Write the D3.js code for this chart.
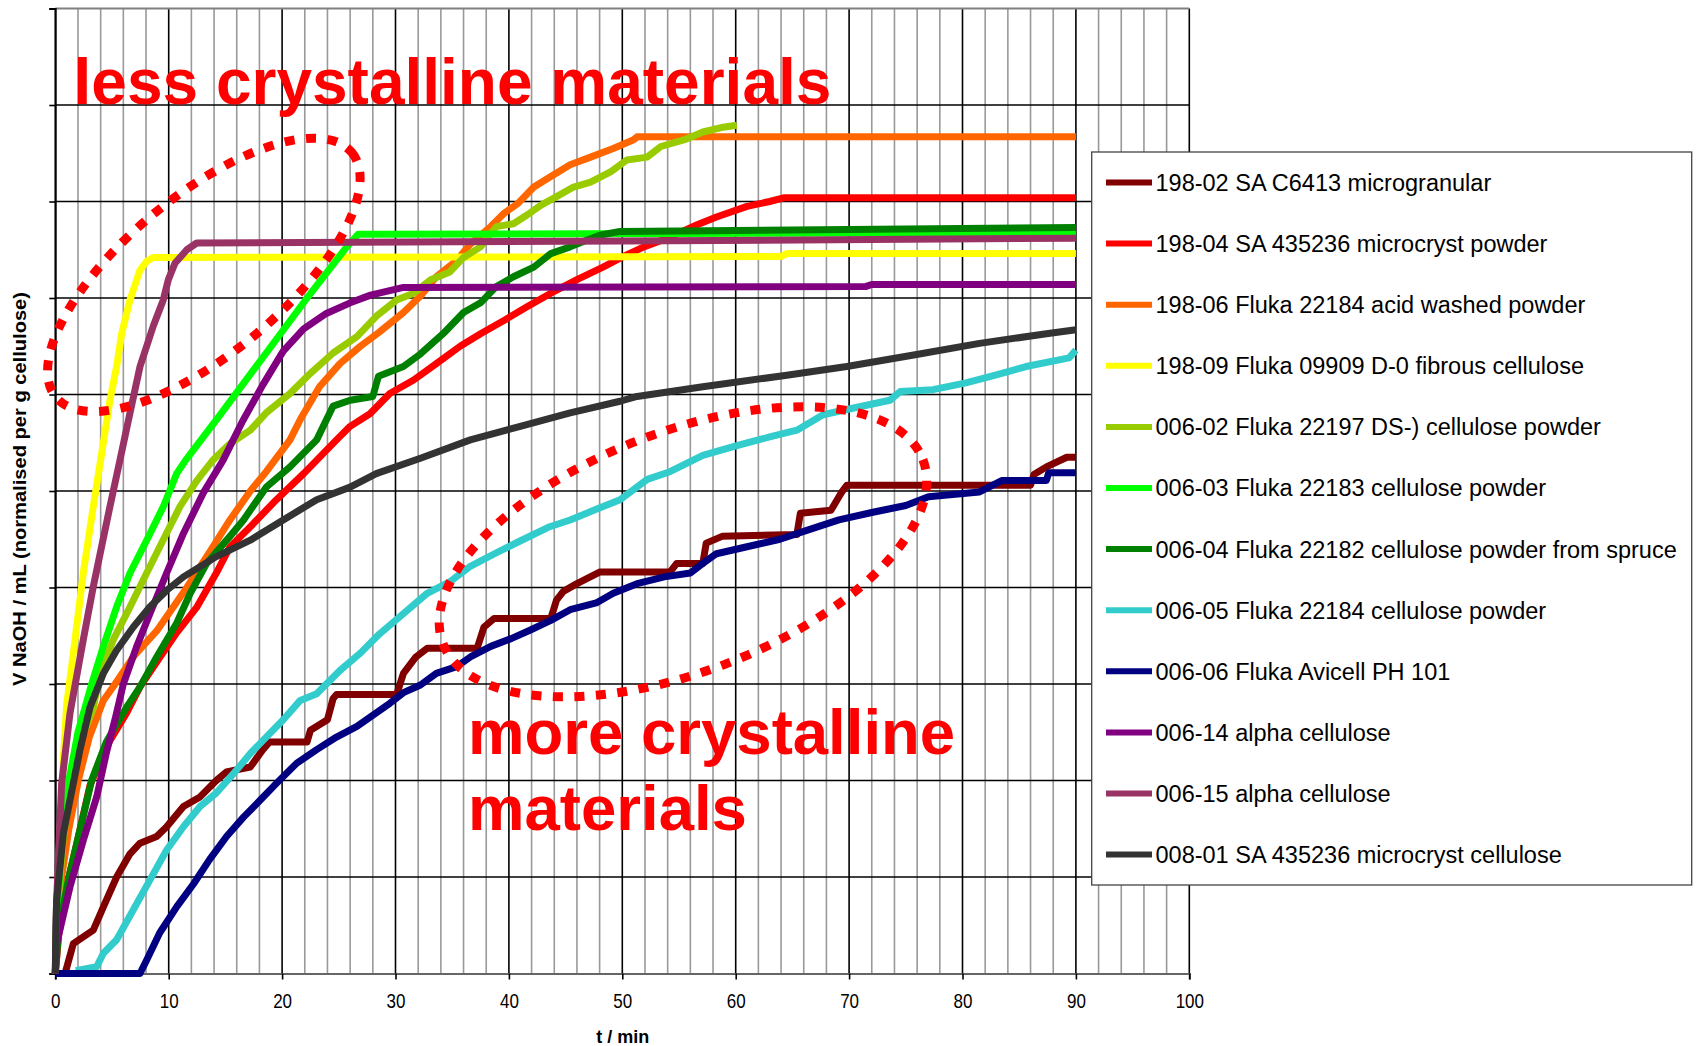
<!DOCTYPE html>
<html><head><meta charset="utf-8">
<script src="https://cdn.jsdelivr.net/npm/d3@7"></script>
<style>
body{margin:0;background:#fff}
svg{display:block}
text{font-family:"Liberation Sans",Arial,Helvetica,sans-serif}
</style>
</head><body>
<svg id="chart" width="1698" height="1046"></svg>
<script>
// ---------------- DATA ----------------
const seriesNames = [
  "198-02 SA C6413 microgranular",
  "198-04 SA 435236 microcryst powder",
  "198-06 Fluka 22184 acid washed powder",
  "198-09 Fluka 09909 D-0 fibrous cellulose",
  "006-02 Fluka 22197 DS-) cellulose powder",
  "006-03 Fluka 22183 cellulose powder",
  "006-04 Fluka 22182 cellulose powder from spruce",
  "006-05 Fluka 22184 cellulose powder",
  "006-06 Fluka Avicell PH 101",
  "006-14 alpha cellulose",
  "006-15 alpha cellulose",
  "008-01 SA 435236 microcryst cellulose"
];

// [t / min, V NaOH (arbitrary grid units)]
const s198_02 = [[0.86,0],[1.59,0.31],[2.47,0.38],[3.35,0.45],[4.24,0.69],[5.41,1.0],[6.59,1.24],[7.47,1.35],[8.94,1.42],[9.82,1.52],[11.3,1.73],[12.76,1.83],[14.2,2.0],[15.1,2.09],[17.2,2.14],[18.3,2.32],[18.9,2.4],[22.2,2.4],[22.5,2.52],[24.0,2.63],[24.5,2.85],[24.8,2.89],[30.1,2.89],[30.7,3.11],[31.8,3.28],[32.8,3.37],[37.2,3.37],[37.8,3.59],[38.7,3.68],[43.7,3.68],[44.2,3.87],[44.8,3.96],[46.0,4.04],[48.0,4.16],[54.2,4.16],[54.8,4.25],[57.1,4.25],[57.4,4.46],[58.8,4.53],[65.4,4.55],[65.7,4.77],[68.4,4.8],[69.3,4.98],[69.8,5.06],[86.0,5.06],[86.3,5.17],[87.4,5.25],[89.2,5.35],[90,5.35]];
const s198_04 = [[0,0],[0.3,0.4],[1.2,1.0],[2.0,1.4],[3.06,1.95],[4.5,2.35],[6.29,2.7],[7.47,2.97],[9.24,3.28],[10.7,3.53],[12.5,3.8],[14.2,4.15],[15.4,4.42],[17.2,4.63],[19.5,4.91],[21.9,5.18],[24.8,5.53],[26.0,5.67],[27.75,5.8],[29.5,6.01],[31.6,6.15],[33.6,6.32],[35.7,6.5],[37.5,6.63],[39.6,6.77],[41.6,6.91],[43.7,7.05],[46.0,7.19],[48.3,7.32],[50.1,7.43],[51.9,7.53],[54.2,7.63],[56.6,7.76],[58.3,7.84],[61.0,7.95],[63.0,8.0],[64.3,8.04],[90,8.04]];
const s198_06 = [[0,0],[0.1,0.4],[0.56,1.0],[1.2,1.5],[2.03,2.0],[3.0,2.45],[4.24,2.83],[5.27,3.0],[7.0,3.3],[8.94,3.55],[11.6,4.0],[13.9,4.42],[15.4,4.7],[17.2,5.0],[18.6,5.2],[20.7,5.53],[21.6,5.74],[23.3,6.08],[25.1,6.32],[26.9,6.5],[28.5,6.64],[30.7,6.85],[32.2,7.02],[33.6,7.22],[35.4,7.39],[36.6,7.56],[38.4,7.74],[39.6,7.88],[40.8,7.98],[42.2,8.15],[43.7,8.26],[45.4,8.38],[47.2,8.46],[49.2,8.55],[51.0,8.64],[51.3,8.67],[90,8.67]];
const s198_09 = [[0,0],[0.12,0.6],[0.41,1.45],[0.7,2.2],[1.0,2.78],[1.74,3.46],[2.47,4.15],[3.35,4.84],[4.0,5.32],[4.82,5.94],[5.41,6.29],[5.85,6.63],[6.59,6.98],[7.47,7.29],[8.06,7.38],[8.64,7.42],[64.0,7.43],[64.5,7.46],[90,7.46]];
const s006_02 = [[0,0],[0.15,0.6],[0.7,1.4],[1.5,2.0],[2.5,2.5],[3.35,2.75],[3.94,3.11],[5.12,3.46],[6.59,3.8],[8.06,4.15],[9.5,4.49],[11.0,4.84],[12.5,5.11],[13.9,5.32],[15.4,5.49],[17.2,5.63],[18.6,5.81],[20.7,6.01],[22.5,6.22],[24.5,6.43],[26.6,6.6],[28.3,6.81],[30.1,6.98],[31.6,7.05],[33.1,7.19],[34.8,7.27],[36.0,7.42],[37.5,7.53],[38.9,7.74],[40.4,7.77],[41.6,7.86],[42.8,7.96],[44.2,8.05],[45.7,8.15],[47.2,8.2],[49.0,8.31],[50.4,8.43],[52.2,8.46],[53.4,8.57],[55.5,8.64],[57.1,8.72],[58.9,8.77],[60.1,8.79]];
const s006_03 = [[0,0],[0.15,0.6],[0.5,1.3],[1.2,2.0],[2.0,2.5],[2.8,2.83],[3.21,3.0],[4.24,3.39],[5.41,3.8],[6.59,4.15],[8.06,4.49],[9.53,4.84],[10.7,5.18],[11.5,5.32],[14.6,5.8],[18.6,6.43],[22.2,7.0],[25.7,7.53],[26.7,7.66],[90,7.68]];
const s006_04 = [[0,0],[0.3,0.45],[1.2,1.0],[2.0,1.4],[3.2,2.0],[4.5,2.4],[6.29,2.76],[7.47,2.97],[8.94,3.28],[10.7,3.63],[11.9,3.94],[13.35,4.25],[15.4,4.53],[16.6,4.7],[18.6,5.04],[20.7,5.25],[23.05,5.53],[24.5,5.88],[26.0,5.94],[28.0,5.98],[28.5,6.19],[30.7,6.29],[32.2,6.42],[34.2,6.63],[36.0,6.85],[37.5,6.95],[38.9,7.12],[40.4,7.22],[42.2,7.32],[43.7,7.46],[45.4,7.53],[46.9,7.6],[48.0,7.65],[49.8,7.69],[70,7.71],[90,7.73]];
const s006_05 = [[1.8,0.03],[3.65,0.07],[4.24,0.21],[5.41,0.35],[6.88,0.66],[8.35,0.97],[9.82,1.28],[11.3,1.52],[12.76,1.73],[14.2,1.87],[16.0,2.11],[17.2,2.28],[18.6,2.45],[20.1,2.63],[21.6,2.83],[23.05,2.9],[25.1,3.14],[26.9,3.32],[28.6,3.52],[30.7,3.73],[32.8,3.94],[34.8,4.06],[36.6,4.22],[38.9,4.36],[41.3,4.5],[43.6,4.63],[45.4,4.7],[47.7,4.81],[49.8,4.91],[52.2,5.12],[54.2,5.2],[57.1,5.37],[60.1,5.47],[63.0,5.56],[65.4,5.63],[67.7,5.79],[70.4,5.86],[73.6,5.94],[74.5,6.03],[77.4,6.05],[80.3,6.12],[82.9,6.2],[85.6,6.29],[89.4,6.38],[90,6.46]];
const s006_06 = [[0,0],[7.47,0],[8.06,0.14],[9.2,0.42],[10.7,0.69],[12.2,0.93],[13.6,1.18],[15.1,1.42],[16.6,1.62],[18.1,1.8],[19.5,1.97],[21.3,2.18],[23.05,2.32],[24.8,2.45],[26.6,2.56],[28.3,2.7],[29.5,2.8],[30.7,2.91],[32.2,2.99],[33.6,3.11],[35.4,3.18],[36.6,3.28],[38.4,3.39],[40.2,3.47],[41.9,3.56],[43.7,3.66],[45.4,3.77],[47.7,3.84],[49.2,3.94],[51.3,4.04],[53.7,4.11],[56.0,4.15],[57.1,4.25],[58.3,4.35],[60.9,4.42],[63.9,4.5],[66.2,4.59],[69.1,4.7],[72.1,4.78],[75.0,4.85],[77.0,4.94],[81.5,4.99],[83.5,5.11],[87.4,5.11],[87.6,5.19],[90,5.19]];
const s006_14 = [[0,0],[0.12,0.31],[1.3,0.9],[2.47,1.38],[3.65,1.83],[4.53,2.3],[5.26,2.63],[6.0,3.0],[7.18,3.39],[8.35,3.73],[9.82,4.15],[11.3,4.56],[13.05,4.98],[14.8,5.32],[16.5,5.72],[18.3,6.1],[20.1,6.45],[21.9,6.68],[23.9,6.84],[26.0,6.95],[27.8,7.03],[30.7,7.11],[71.5,7.12],[72.0,7.14],[90,7.14]];
const s006_15 = [[0,0],[0.12,0.76],[0.56,1.97],[1.3,2.7],[2.47,3.46],[3.35,4.01],[4.82,4.84],[5.7,5.32],[6.59,5.81],[7.47,6.29],[8.64,6.71],[9.52,6.98],[9.97,7.19],[10.55,7.36],[11.6,7.5],[12.47,7.57],[50,7.59],[90,7.62]];
const s008_01 = [[0,0],[0.05,0.5],[0.12,0.76],[0.71,1.45],[1.3,1.8],[2.18,2.32],[3.06,2.76],[4.24,3.11],[5.41,3.35],[6.88,3.59],[8.35,3.8],[9.82,3.97],[11.3,4.11],[14.2,4.32],[17.2,4.49],[20.1,4.7],[23.05,4.91],[26.0,5.04],[28.3,5.18],[32.2,5.34],[36.6,5.53],[41.0,5.67],[45.4,5.81],[49.8,5.93],[51.3,5.98],[57.1,6.08],[64.5,6.2],[69.8,6.29],[75.7,6.41],[81.5,6.53],[87.4,6.63],[90,6.67]];

const seriesData = [s198_02, s198_04, s198_06, s198_09, s006_02, s006_03, s006_04, s006_05, s006_06, s006_14, s006_15, s008_01];

const xTickValues = [0, 10, 20, 30, 40, 50, 60, 70, 80, 90, 100];
const xTickLabels = ["0", "10", "20", "30", "40", "50", "60", "70", "80", "90", "100"];
const xMinorGrid = d3.range(0, 101, 2);
const yGridValues = [0, 1, 2, 3, 4, 5, 6, 7, 8, 9, 10];

const xTitle = "t / min";
const yTitle = "V NaOH / mL (normalised per g cellulose)";
const noteTop = "less crystalline materials";
const noteBottom = ["more crystalline", "materials"];

// ---------------- STYLE ----------------
const seriesColors = ["#800000", "#FF0000", "#FF6600", "#FFFF00", "#99CC00", "#00FF00",
                      "#008000", "#33CCCC", "#000080", "#800080", "#993366", "#333333"];

// ---------------- DRAW ----------------
const svg = d3.select("#chart");
const x = d3.scaleLinear().domain([0, 100]).range([55.3, 1189.3]);
const y = d3.scaleLinear().domain([0, 10]).range([973.5, 8.5]);

svg.append("rect").attr("x", x(0)).attr("y", y(10)).attr("width", x(100) - x(0))
  .attr("height", y(0) - y(10)).attr("fill", "#fff");

// vertical grid
svg.append("g").selectAll("line").data(xMinorGrid).join("line")
  .attr("x1", d => x(d)).attr("x2", d => x(d)).attr("y1", y(0)).attr("y2", y(10))
  .attr("stroke", d => d % 10 === 0 ? "#000" : "#999")
  .attr("stroke-width", 1.6);

// horizontal grid
svg.append("g").selectAll("line").data(yGridValues.filter(d => d > 0 && d < 10)).join("line")
  .attr("x1", x(0)).attr("x2", x(100)).attr("y1", d => y(d)).attr("y2", d => y(d))
  .attr("stroke", "#000").attr("stroke-width", 1.6);

// plot border top
svg.append("line").attr("x1", x(0)).attr("x2", x(100)).attr("y1", y(10)).attr("y2", y(10))
  .attr("stroke", "#808080").attr("stroke-width", 2);

// x axis
const xAxis = svg.append("g").attr("transform", `translate(0,${y(0)})`)
  .call(d3.axisBottom(x).tickValues(xTickValues).tickSize(6).tickPadding(14)
        .tickFormat((d, i) => xTickLabels[i]));
xAxis.select(".domain").attr("stroke", "#666").attr("stroke-width", 2.2);
xAxis.selectAll(".tick line").attr("stroke", "#000").attr("stroke-width", 1.6);
xAxis.selectAll(".tick text").attr("font-size", 20).attr("fill", "#000")
  .attr("font-family", '"Liberation Sans",Arial,sans-serif')
  .attr("transform", "scale(0.85,1)");

// y axis
const yAxis = svg.append("g").attr("transform", `translate(${x(0)},0)`)
  .call(d3.axisLeft(y).tickValues(yGridValues).tickSize(6).tickFormat(""));
yAxis.select(".domain").attr("stroke", "#000").attr("stroke-width", 1.8);
yAxis.selectAll(".tick line").attr("stroke", "#000").attr("stroke-width", 1.6);

// series
const line = d3.line().x(d => x(d[0])).y(d => y(d[1]));
svg.append("g").selectAll("path").data(seriesData).join("path")
  .attr("d", line)
  .attr("fill", "none")
  .attr("stroke", (d, i) => seriesColors[i])
  .attr("stroke-width", 7)
  .attr("stroke-linejoin", "round");

// annotation ellipses (centres in data space)
const ell = [
  {c: [13.1, 7.24], rx: 192, ry: 79, a: -39.6},
  {c: [55.35, 4.37], rx: 257, ry: 120, a: -21}
];
svg.append("g").selectAll("ellipse").data(ell).join("ellipse")
  .attr("transform", d => `translate(${x(d.c[0])},${y(d.c[1])}) rotate(${d.a})`)
  .attr("rx", d => d.rx).attr("ry", d => d.ry)
  .attr("fill", "none").attr("stroke", "#FF0000").attr("stroke-width", 9)
  .attr("stroke-dasharray", "10 11.5");

// annotation texts
svg.append("text").attr("x", x(1.61)).attr("y", y(9.01))
  .attr("font-size", 64).attr("font-weight", "bold").attr("fill", "#FF0000")
  .text(noteTop);
svg.append("g").selectAll("text").data(noteBottom).join("text")
  .attr("x", x(36.4)).attr("y", (d, i) => y(i === 0 ? 2.27 : 1.49))
  .attr("font-size", 63.5).attr("font-weight", "bold").attr("fill", "#FF0000")
  .text(d => d);

// axis titles
svg.append("text").attr("x", 622.7).attr("y", 1043).attr("text-anchor", "middle")
  .attr("font-size", 18).attr("font-weight", "bold").text(xTitle);
svg.append("text").attr("transform", "translate(26,489) rotate(-90)")
  .attr("text-anchor", "middle").attr("font-size", 18).attr("font-weight", "bold")
  .attr("textLength", 394).attr("lengthAdjust", "spacingAndGlyphs")
  .text(yTitle);

// legend
const lg = svg.append("g");
lg.append("rect").attr("x", 1091.7).attr("y", 152).attr("width", 600).attr("height", 733)
  .attr("fill", "#fff").attr("stroke", "#444").attr("stroke-width", 1.3);
const items = lg.selectAll("g.item").data(seriesNames).join("g").attr("class", "item")
  .attr("transform", (d, i) => `translate(0,${182.5 + i * 61.1})`);
items.append("line").attr("x1", 1106).attr("x2", 1152).attr("y1", 0).attr("y2", 0)
  .attr("stroke", (d, i) => seriesColors[i]).attr("stroke-width", 6);
items.append("text").attr("x", 1155.5).attr("y", 0).attr("dy", "0.36em")
  .attr("font-size", 23.5).attr("fill", "#000").text(d => d);
</script>
</body></html>
